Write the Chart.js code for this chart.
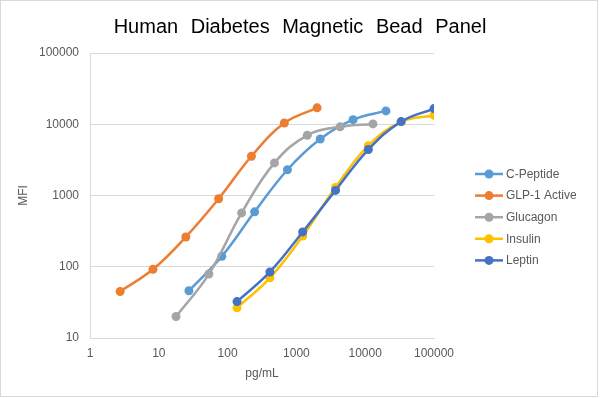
<!DOCTYPE html>
<html>
<head>
<meta charset="utf-8">
<title>Human Diabetes Magnetic Bead Panel</title>
<script src="https://cdn.jsdelivr.net/npm/chart.js@4"></script>
<style>
  body { margin: 0; background: #fff; }
  canvas { display: block; }
</style>
</head>
<body>
<canvas id="chart" width="600" height="398"></canvas>
<script>
// series names and values (pg/mL vs MFI)
const chartTitle = 'Human Diabetes Magnetic Bead Panel';
const seriesNames = ['C-Peptide', 'GLP-1 Active', 'Glucagon', 'Insulin', 'Leptin'];
const seriesColors = ['#5B9BD5', '#ED7D31', '#A5A5A5', '#FFC000', '#4472C4'];

const cPeptideX = [27.4, 82.3, 247, 741, 2222, 6667, 20000];
const cPeptideY = [46, 140, 590, 2300, 6200, 11600, 15400];
const glp1X = [2.74, 8.23, 24.7, 74.1, 222, 667, 2000];
const glp1Y = [45, 92, 262, 900, 3550, 10400, 17000];
const glucagonX = [17.8, 53.4, 160, 480, 1440, 4320, 12960];
const glucagonY = [20, 79, 570, 2870, 7000, 9200, 10100];
const insulinX = [137, 412, 1235, 3704, 11111, 33333, 100000];
const insulinY = [26.5, 70, 270, 1300, 5000, 10800, 13300];
const leptinX = [137, 412, 1235, 3704, 11111, 33333, 100000];
const leptinY = [32.4, 84.5, 308, 1180, 4420, 10900, 16600];

const xTicks = [1, 10, 100, 1000, 10000, 100000];
const yTicks = [10, 100, 1000, 10000, 100000];

const seriesX = [cPeptideX, glp1X, glucagonX, insulinX, leptinX];
const seriesY = [cPeptideY, glp1Y, glucagonY, insulinY, leptinY];

const FONT = '"Liberation Sans", Arial, sans-serif';
const TEXT = '#595959';
const GRID = '#D9D9D9';

const datasets = seriesNames.map((name, i) => ({
  label: name,
  data: seriesX[i].map((x, j) => ({ x: x, y: seriesY[i][j] })),
  showLine: true,
  tension: 0.4,
  borderColor: seriesColors[i],
  backgroundColor: seriesColors[i],
  borderWidth: 2.5,
  pointRadius: 4.5,
  pointBackgroundColor: seriesColors[i],
  pointBorderColor: seriesColors[i],
  pointBorderWidth: 0,
  // later series on top, like the original
  order: seriesNames.length - 1 - i
}));

// white background, outer border and the title (centred on the whole picture)
const frame = {
  id: 'frame',
  beforeDraw(chart) {
    const c = chart.ctx;
    c.save();
    c.fillStyle = '#fff';
    c.fillRect(0, 0, chart.width, chart.height);
    c.strokeStyle = GRID;
    c.lineWidth = 1;
    c.strokeRect(0.5, 0.5, chart.width - 3, chart.height - 2);
    c.font = '20px ' + FONT;
    c.fillStyle = '#000';
    c.textAlign = 'center';
    c.textBaseline = 'middle';
    c.wordSpacing = '7px';
    c.fillText(chartTitle, chart.width / 2, 27);
    c.wordSpacing = '0px';
    c.restore();
  }
};

// legend on the right: line with a dot, then the name
const sideLegend = {
  id: 'sideLegend',
  afterDraw(chart) {
    const c = chart.ctx;
    c.save();
    c.font = '12px ' + FONT;
    c.textBaseline = 'middle';
    c.textAlign = 'left';
    seriesNames.forEach((name, i) => {
      const y = 174 + i * 21.6;
      c.strokeStyle = seriesColors[i];
      c.lineWidth = 2.5;
      c.beginPath();
      c.moveTo(475, y);
      c.lineTo(503, y);
      c.stroke();
      c.fillStyle = seriesColors[i];
      c.beginPath();
      c.arc(489, y, 4.5, 0, Math.PI * 2);
      c.fill();
      c.fillStyle = TEXT;
      c.fillText(name, 506, y + 0.5);
    });
    c.restore();
  }
};

new Chart(document.getElementById('chart'), {
  type: 'scatter',
  data: { datasets: datasets },
  options: {
    responsive: false,
    animation: false,
    layout: { padding: { left: 10, right: 166, top: 53, bottom: 10 } },
    plugins: {
      legend: { display: false },
      tooltip: { enabled: false },
      title: { display: false }
    },
    scales: {
      x: {
        type: 'logarithmic',
        min: 1,
        max: 100000,
        afterBuildTicks: s => { s.ticks = xTicks.map(v => ({ value: v })); },
        afterFit: s => { s.height = 50; },
        grid: { display: false, drawTicks: false },
        border: { display: true, color: GRID, width: 1 },
        ticks: {
          color: TEXT,
          font: { family: FONT, size: 12 },
          padding: 8,
          maxRotation: 0,
          callback: v => String(v)
        },
        title: {
          display: true,
          text: 'pg/mL',
          color: TEXT,
          font: { family: FONT, size: 12 },
          padding: { top: 0, bottom: 7 }
        }
      },
      y: {
        type: 'logarithmic',
        min: 10,
        max: 100000,
        afterBuildTicks: s => { s.ticks = yTicks.map(v => ({ value: v })); },
        afterFit: s => { s.width = 80; },
        grid: { color: GRID, lineWidth: 1, drawTicks: false },
        border: { display: true, color: GRID, width: 1 },
        ticks: {
          color: TEXT,
          font: { family: FONT, size: 12 },
          padding: 11,
          callback: v => String(v)
        },
        title: {
          display: true,
          text: 'MFI',
          color: TEXT,
          font: { family: FONT, size: 12 },
          padding: { top: 6, bottom: 0 }
        }
      }
    }
  },
  plugins: [frame, sideLegend]
});
</script>
</body>
</html>
